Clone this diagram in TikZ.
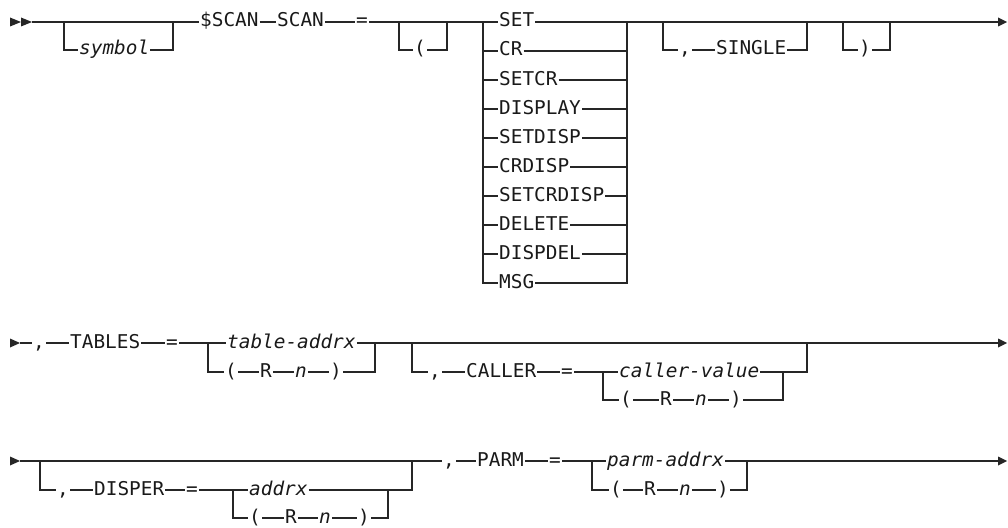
\documentclass[tikz,border=0pt]{standalone}
\usepackage{fontspec}
\newfontfamily\rrfont[FakeStretch=1.02]{DejaVu Sans Mono}
\begin{document}
\begin{tikzpicture}[x=1pt,y=-1pt,
  rail/.style={line width=1.1pt, draw=black!85, line join=miter},
  tok/.style={inner xsep=1pt, inner ysep=0pt, text height=10pt, text depth=0pt, anchor=west, font=\rrfont\fontsize{19}{21}\selectfont, text=black!90},
  var/.style={tok, font=\rrfont\itshape\fontsize{19}{21}\selectfont},
  tip/.style={fill=black!85}]
\useasboundingbox (0,0) rectangle (1008,527);
% ---------------- row 1 ----------------
\fill[tip] (10,17.5) -- (21,22) -- (10,26.5) -- cycle;
\fill[tip] (21,17.5) -- (32,22) -- (21,26.5) -- cycle;
\coordinate (s1) at (32,22);
\coordinate (b1l) at (64,22);
\coordinate (b1r) at (173,22);
\node[var] (sym) at (78,50) {symbol};
\node[tok] (dscan) at (199,22) {\$SCAN};
\node[tok] (scan) at (276,22) {SCAN};
\node[tok] (eq1) at (355,22) {=};
\coordinate (b2l) at (399,22);
\coordinate (b2r) at (447,22);
\node[tok] (lp1) at (413,50) {(};
\coordinate (chl) at (483,22);
\coordinate (chr) at (627,22);
\foreach \t [count=\i from 0] in {SET,CR,SETCR,DISPLAY,SETDISP,CRDISP,SETCRDISP,DELETE,DISPDEL,MSG}
  \node[tok] (c\i) at (498,22+29*\i) {\t};
\coordinate (b3l) at (663,22);
\coordinate (b3r) at (807,22);
\node[tok] (cm1) at (678,50) {,};
\node[tok] (single) at (715,50) {SINGLE};
\coordinate (b4l) at (843,22);
\coordinate (b4r) at (890,22);
\node[tok] (rp1) at (858,50) {)};
\coordinate (e1) at (998,22);
\fill[tip] (998,17.5) -- (1007,22) -- (998,26.5) -- cycle;

\draw[rail] (s1) -- (dscan.west);
\draw[rail] (b1l) |- (sym.west);
\draw[rail] (sym.east) -| (b1r);
\draw[rail] (dscan.east) -- (scan.west);
\draw[rail] (scan.east) -- (eq1.west);
\draw[rail] (eq1.east) -- (c0.west);
\draw[rail] (b2l) |- (lp1.west);
\draw[rail] (lp1.east) -| (b2r);
\draw[rail] (chl) |- (c9.west);
\draw[rail] (c9.east) -| (chr);
\foreach \i in {1,...,8} {
  \draw[rail] (chl |- c\i.west) -- (c\i.west);
  \draw[rail] (c\i.east) -- (chr |- c\i.east);
}
\draw[rail] (c0.east) -- (e1);
\draw[rail] (b3l) |- (cm1.west);
\draw[rail] (cm1.east) -- (single.west);
\draw[rail] (single.east) -| (b3r);
\draw[rail] (b4l) |- (rp1.west);
\draw[rail] (rp1.east) -| (b4r);

% ---------------- row 2 ----------------
\fill[tip] (10,338.5) -- (20,343) -- (10,347.5) -- cycle;
\coordinate (s2) at (20,343);
\node[tok] (cm2) at (32,343) {,};
\node[tok] (tables) at (69,343) {TABLES};
\node[tok] (eq2) at (165,343) {=};
\coordinate (t2l) at (208,343);
\node[var] (taddr) at (226,343) {table-addrx};
\node[tok] (lp2) at (224,372) {(};
\node[tok] (r2) at (259,372) {R};
\node[var] (n2) at (294,372) {n};
\node[tok] (rp2) at (329,372) {)};
\coordinate (t2r) at (375,343);
\coordinate (k2l) at (412,343);
\node[tok] (cm3) at (428,372) {,};
\node[tok] (caller) at (465,372) {CALLER};
\node[tok] (eq3) at (560,372) {=};
\coordinate (v2l) at (603,372);
\node[var] (cval) at (618,372) {caller-value};
\node[tok] (lp3) at (619,400) {(};
\node[tok] (r3) at (659,400) {R};
\node[var] (n3) at (694,400) {n};
\node[tok] (rp3) at (729,400) {)};
\coordinate (v2r) at (783,372);
\coordinate (k2r) at (807,343);
\coordinate (e2) at (998,343);
\fill[tip] (998,338.5) -- (1007,343) -- (998,347.5) -- cycle;

\draw[rail] (s2) -- (cm2.west);
\draw[rail] (cm2.east) -- (tables.west);
\draw[rail] (tables.east) -- (eq2.west);
\draw[rail] (eq2.east) -- (taddr.west);
\draw[rail] (t2l) |- (lp2.west);
\draw[rail] (lp2.east) -- (r2.west);
\draw[rail] (r2.east) -- (n2.west);
\draw[rail] (n2.east) -- (rp2.west);
\draw[rail] (rp2.east) -| (t2r);
\draw[rail] (taddr.east) -- (e2);
\draw[rail] (k2l) |- (cm3.west);
\draw[rail] (cm3.east) -- (caller.west);
\draw[rail] (caller.east) -- (eq3.west);
\draw[rail] (eq3.east) -- (cval.west);
\draw[rail] (v2l) |- (lp3.west);
\draw[rail] (lp3.east) -- (r3.west);
\draw[rail] (r3.east) -- (n3.west);
\draw[rail] (n3.east) -- (rp3.west);
\draw[rail] (rp3.east) -| (v2r);
\draw[rail] (cval.east) -| (k2r);

% ---------------- row 3 ----------------
\fill[tip] (10,456.5) -- (20,461) -- (10,465.5) -- cycle;
\coordinate (s3) at (20,461);
\coordinate (d3l) at (40,461);
\node[tok] (cm4) at (56,490) {,};
\node[tok] (disper) at (93,490) {DISPER};
\node[tok] (eq4) at (185,490) {=};
\coordinate (a3l) at (233,490);
\node[var] (addrx) at (248,490) {addrx};
\node[tok] (lp4) at (248,518) {(};
\node[tok] (r4) at (284,518) {R};
\node[var] (n4) at (318,518) {n};
\node[tok] (rp4) at (357,518) {)};
\coordinate (a3r) at (388,490);
\coordinate (d3r) at (412,461);
\node[tok] (cm5) at (442,461) {,};
\node[tok] (parm) at (476,461) {PARM};
\node[tok] (eq5) at (548,461) {=};
\coordinate (p3l) at (592,461);
\node[var] (paddr) at (606,461) {parm-addrx};
\node[tok] (lp5) at (609,490) {(};
\node[tok] (r5) at (643,490) {R};
\node[var] (n5) at (678,490) {n};
\node[tok] (rp5) at (716,490) {)};
\coordinate (p3r) at (747,461);
\coordinate (e3) at (998,461);
\fill[tip] (998,456.5) -- (1007,461) -- (998,465.5) -- cycle;

\draw[rail] (s3) -- (cm5.west);
\draw[rail] (d3l) |- (cm4.west);
\draw[rail] (cm4.east) -- (disper.west);
\draw[rail] (disper.east) -- (eq4.west);
\draw[rail] (eq4.east) -- (addrx.west);
\draw[rail] (a3l) |- (lp4.west);
\draw[rail] (lp4.east) -- (r4.west);
\draw[rail] (r4.east) -- (n4.west);
\draw[rail] (n4.east) -- (rp4.west);
\draw[rail] (rp4.east) -| (a3r);
\draw[rail] (addrx.east) -| (d3r);
\draw[rail] (cm5.east) -- (parm.west);
\draw[rail] (parm.east) -- (eq5.west);
\draw[rail] (eq5.east) -- (paddr.west);
\draw[rail] (p3l) |- (lp5.west);
\draw[rail] (lp5.east) -- (r5.west);
\draw[rail] (r5.east) -- (n5.west);
\draw[rail] (n5.east) -- (rp5.west);
\draw[rail] (rp5.east) -| (p3r);
\draw[rail] (paddr.east) -- (e3);
\end{tikzpicture}
\end{document}
